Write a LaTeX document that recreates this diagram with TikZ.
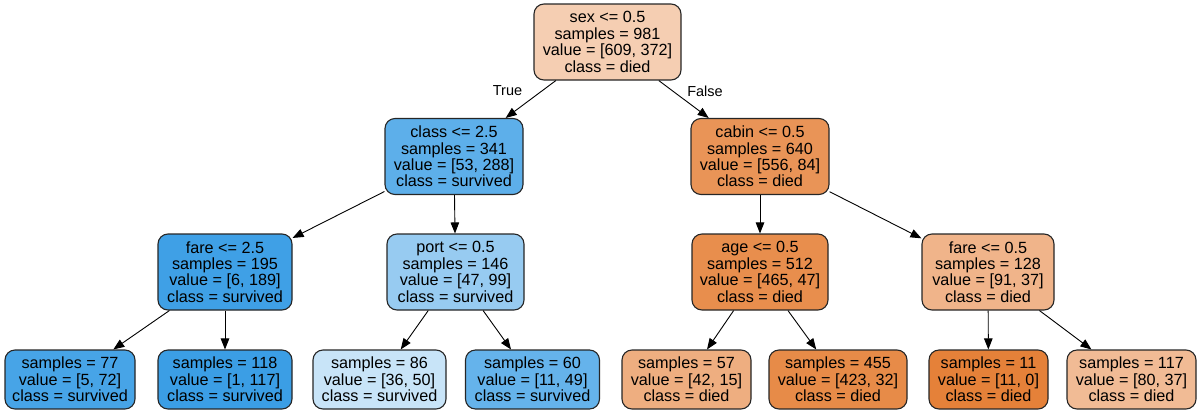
\documentclass[tikz,border=0pt]{standalone}
\usepackage{fontspec}
\setmainfont{Liberation Sans}
\usetikzlibrary{arrows.meta}
\definecolor{c0}{RGB}{245,206,178}
\definecolor{c1}{RGB}{93,175,234}
\definecolor{c2}{RGB}{233,148,87}
\definecolor{c3}{RGB}{63,160,230}
\definecolor{c4}{RGB}{151,203,241}
\definecolor{c5}{RGB}{232,142,77}
\definecolor{c6}{RGB}{240,180,138}
\definecolor{l1c}{RGB}{71,164,231}
\definecolor{l2c}{RGB}{59,158,229}
\definecolor{l3c}{RGB}{200,228,248}
\definecolor{l4c}{RGB}{101,179,235}
\definecolor{l5c}{RGB}{238,174,128}
\definecolor{l6c}{RGB}{231,139,72}
\definecolor{l7c}{RGB}{229,129,57}
\definecolor{l8c}{RGB}{241,187,149}
\begin{document}
\begin{tikzpicture}[x=1pt,y=-1pt,
  box/.style={draw=black!85, line width=1.1pt, rounded corners=10pt, align=center, inner sep=0pt, font=\fontsize{16.2}{16.4}\selectfont},
  inner/.style={box, minimum height=76pt},
  leaf/.style={box, minimum height=59pt},
  edge/.style={-{Triangle[length=11pt,width=8.5pt]}, line width=0.9pt},
  elabel/.style={font=\fontsize{14.5}{16}\selectfont, inner sep=0pt}]
\useasboundingbox (0,0) rectangle (1200,413);
\node[inner, fill=c0, minimum width=147pt] (root) at (607.5,42) {sex <= 0.5\\samples = 981\\value = [609, 372]\\class = died};
\node[inner, fill=c1, minimum width=138pt] (n1) at (454,156.5) {class <= 2.5\\samples = 341\\value = [53, 288]\\class = survived};
\node[inner, fill=c2, minimum width=138pt] (n2) at (760,156.5) {cabin <= 0.5\\samples = 640\\value = [556, 84]\\class = died};
\node[inner, fill=c3, minimum width=134pt] (n3) at (225,272) {fare <= 2.5\\samples = 195\\value = [6, 189]\\class = survived};
\node[inner, fill=c4, minimum width=137pt] (n4) at (455.5,272) {port <= 0.5\\samples = 146\\value = [47, 99]\\class = survived};
\node[inner, fill=c5, minimum width=136pt] (n5) at (760,272) {age <= 0.5\\samples = 512\\value = [465, 47]\\class = died};
\node[inner, fill=c6, minimum width=132pt] (n6) at (988,272) {fare <= 0.5\\samples = 128\\value = [91, 37]\\class = died};
\node[leaf, fill=l1c, minimum width=130pt] (l1) at (70,379.5) {samples = 77\\value = [5, 72]\\class = survived};
\node[leaf, fill=l2c, minimum width=134pt] (l2) at (225,379.5) {samples = 118\\value = [1, 117]\\class = survived};
\node[leaf, fill=l3c, minimum width=133pt] (l3) at (379.5,379.5) {samples = 86\\value = [36, 50]\\class = survived};
\node[leaf, fill=l4c, minimum width=134pt] (l4) at (532.5,379.5) {samples = 60\\value = [11, 49]\\class = survived};
\node[leaf, fill=l5c, minimum width=129pt] (l5) at (686.5,379.5) {samples = 57\\value = [42, 15]\\class = died};
\node[leaf, fill=l6c, minimum width=138pt] (l6) at (838,379.5) {samples = 455\\value = [423, 32]\\class = died};
\node[leaf, fill=l7c, minimum width=119pt] (l7) at (988.5,379.5) {samples = 11\\value = [11, 0]\\class = died};
\node[leaf, fill=l8c, minimum width=129pt] (l8) at (1131.5,379.5) {samples = 117\\value = [80, 37]\\class = died};
\draw[edge] (root) -- (n1);
\draw[edge] (root) -- (n2);
\draw[edge] (n1) -- (n3);
\draw[edge] (n1) -- (n4);
\draw[edge] (n2) -- (n5);
\draw[edge] (n2) -- (n6);
\draw[edge] (n3) -- (l1);
\draw[edge] (n3) -- (l2);
\draw[edge] (n4) -- (l3);
\draw[edge] (n4) -- (l4);
\draw[edge] (n5) -- (l5);
\draw[edge] (n5) -- (l6);
\draw[edge] (n6) -- (l7);
\draw[edge] (n6) -- (l8);
\node[elabel] (tl) at (507.5,91) {True};
\node[elabel] (fl) at (705,91) {False};
\end{tikzpicture}
\end{document}
